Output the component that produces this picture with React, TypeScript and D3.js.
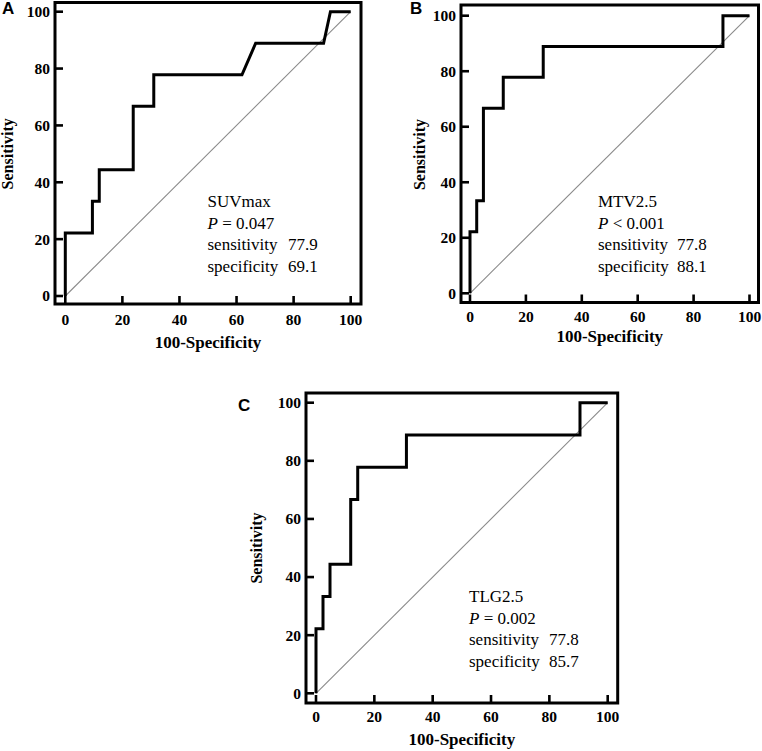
import React from "react";
import * as d3 from "d3";

// ---- data ----
const ticks = [0, 20, 40, 60, 80, 100];

const fprA = [0, 0, 9.5, 9.5, 11.9, 11.9, 23.8, 23.8, 31.0, 31.0, 61.9, 66.7, 90.5, 92.9, 100];
const tprA = [0, 22.2, 22.2, 33.3, 33.3, 44.4, 44.4, 66.7, 66.7, 77.8, 77.8, 88.9, 88.9, 100, 100];

const fprB = [0, 0, 2.4, 2.4, 4.8, 4.8, 11.9, 11.9, 26.2, 26.2, 90.5, 90.5, 100];
const tprB = [0, 22.2, 22.2, 33.3, 33.3, 66.7, 66.7, 77.8, 77.8, 88.9, 88.9, 100, 100];

const fprC = [0, 0, 2.4, 2.4, 4.8, 4.8, 11.9, 11.9, 14.3, 14.3, 31.0, 31.0, 90.5, 90.5, 100];
const tprC = [0, 22.2, 22.2, 33.3, 33.3, 44.4, 44.4, 66.7, 66.7, 77.8, 77.8, 88.9, 88.9, 100, 100];

const panelLabels = ["A", "B", "C"];
const markerNames = ["SUVmax", "MTV2.5", "TLG2.5"];
const pTexts = ["= 0.047", "< 0.001", "= 0.002"];
const sensValues = ["77.9", "77.8", "77.8"];
const specValues = ["69.1", "88.1", "85.7"];

type Layout = {
  fl: number; fr: number; ft: number; fb: number;
  x0: number; x100: number; y0: number; y100: number;
  lab: [number, number];
  ytitleX: number;
  xtitleY: number;
  xtickY: number;
  txtX: number; txtY: number; valX: number;
};

const layouts: Layout[] = [
  { fl: 55, fr: 361, ft: 2.5, fb: 304, x0: 65.3, x100: 350.7, y0: 296, y100: 11.7, lab: [2, 14], ytitleX: 13, xtitleY: 348, xtickY: 325, txtX: 207.5, txtY: 207, valX: 288 },
  { fl: 461, fr: 758.5, ft: 5, fb: 302.5, x0: 470, x100: 749.5, y0: 293.3, y100: 15.7, lab: [410, 14], ytitleX: 425, xtitleY: 342, xtickY: 322, txtX: 598, txtY: 207, valX: 677 },
  { fl: 306, fr: 617.7, ft: 393, fb: 703, x0: 316, x100: 607.7, y0: 693.3, y100: 402.7, lab: [238, 411], ytitleX: 262, xtitleY: 745, xtickY: 722, txtX: 469, txtY: 602, valX: 549 },
];

const fprs = [fprA, fprB, fprC];
const tprs = [tprA, tprB, tprC];

const serif = "'Liberation Serif', 'Times New Roman', serif";

function Panel({ i }: { i: number }) {
  const L = layouts[i];
  const x = d3.scaleLinear().domain([0, 100]).range([L.x0, L.x100]);
  const y = d3.scaleLinear().domain([0, 100]).range([L.y0, L.y100]);
  const pts = fprs[i].map((f, k) => [f, tprs[i][k]] as [number, number]);
  const line = d3.line<[number, number]>().x((d) => x(d[0])).y((d) => y(d[1]));
  const lh = 21.7;
  return (
    <g>
      <text x={L.lab[0]} y={L.lab[1]} fontFamily="'Liberation Sans', Arial, sans-serif" fontWeight="bold" fontSize={17}>{panelLabels[i]}</text>
      {/* diagonal */}
      <line x1={x(0)} y1={y(0)} x2={x(100)} y2={y(100)} stroke="#8a8a8a" strokeWidth={1.1} />
      {/* curve */}
      <path d={line(pts) || ""} fill="none" stroke="#000" strokeWidth={3} strokeLinejoin="miter" />
      {/* frame */}
      <rect x={L.fl} y={L.ft} width={L.fr - L.fl} height={L.fb - L.ft} fill="none" stroke="#000" strokeWidth={3} />
      {/* ticks */}
      {ticks.map((t) => (
        <g key={"y" + t}>
          <line x1={L.fl} x2={L.fl + 8} y1={y(t)} y2={y(t)} stroke="#000" strokeWidth={2.6} />
          <text x={L.fl - 5} y={y(t)} dy="0.35em" textAnchor="end" fontFamily={serif} fontWeight="bold" fontSize={15.5}>{t}</text>
        </g>
      ))}
      {ticks.map((t) => (
        <g key={"x" + t}>
          <line x1={x(t)} x2={x(t)} y1={L.fb} y2={L.fb - 8} stroke="#000" strokeWidth={2.6} />
          <text x={x(t)} y={L.xtickY} textAnchor="middle" fontFamily={serif} fontWeight="bold" fontSize={15.5}>{t}</text>
        </g>
      ))}
      {/* axis titles */}
      <text transform={`translate(${L.ytitleX},${(y(0) + y(100)) / 2}) rotate(-90)`} textAnchor="middle" fontFamily={serif} fontWeight="bold" fontSize={16}>Sensitivity</text>
      <text x={(L.fl + L.fr) / 2} y={L.xtitleY} textAnchor="middle" fontFamily={serif} fontWeight="bold" fontSize={17}>100-Specificity</text>
      {/* annotation */}
      <g fontFamily={serif} fontSize={17}>
        <text x={L.txtX} y={L.txtY}>{markerNames[i]}</text>
        <text x={L.txtX} y={L.txtY + lh}><tspan fontStyle="italic">P</tspan> {pTexts[i]}</text>
        <text x={L.txtX} y={L.txtY + 2 * lh}>sensitivity</text>
        <text x={L.valX} y={L.txtY + 2 * lh}>{sensValues[i]}</text>
        <text x={L.txtX} y={L.txtY + 3 * lh}>specificity</text>
        <text x={L.valX} y={L.txtY + 3 * lh}>{specValues[i]}</text>
      </g>
    </g>
  );
}

export default function App() {
  return (
    <svg width={762} height={751} style={{ position: "absolute", left: 0, top: 0, background: "#fff" }}>
      <rect width={762} height={751} fill="#fff" />
      {[0, 1, 2].map((i) => <Panel key={i} i={i} />)}
    </svg>
  );
}
